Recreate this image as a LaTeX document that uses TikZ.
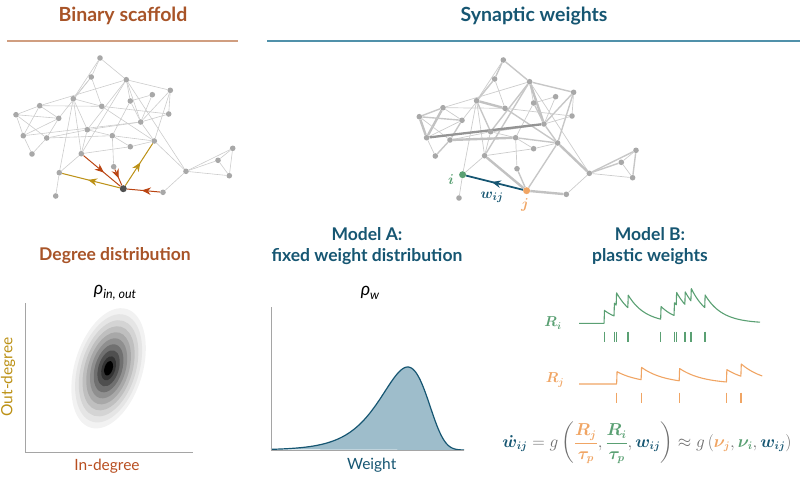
\documentclass[tikz,border=0pt]{standalone}
\usepackage[no-math]{fontspec}
\setmainfont{Lato}
\usepackage{amsmath}
\usepackage{bm}
\usetikzlibrary{arrows.meta,decorations.markings,backgrounds}
\definecolor{brn}{RGB}{168,84,40}
\definecolor{brnline}{RGB}{208,158,128}
\definecolor{tl}{RGB}{22,86,114}
\definecolor{tlline}{RGB}{80,145,170}
\definecolor{redb}{RGB}{186,68,18}
\definecolor{goldc}{RGB}{188,145,22}
\definecolor{indeg}{RGB}{184,78,32}
\definecolor{gn}{RGB}{90,160,115}
\definecolor{orng}{RGB}{240,165,100}
\definecolor{gry}{RGB}{110,110,110}
\definecolor{fillb}{RGB}{158,189,203}
\definecolor{nodeg}{RGB}{168,168,168}
\definecolor{darkn}{RGB}{80,80,80}
\definecolor{axg}{RGB}{165,165,165}
\tikzset{
  h1/.style={font=\fontsize{19.5}{22}\selectfont\bfseries},
  h2/.style={font=\fontsize{17.5}{21}\selectfont\bfseries, align=center, text=tl},
  lab/.style={font=\fontsize{15.5}{17}\selectfont},
  dot/.style={circle, fill=nodeg, inner sep=0pt, minimum size=5.6pt},
  bigdot/.style={circle, inner sep=0pt, minimum size=7pt},
  ethin/.style={line width=0.6pt, black!20},
  e1/.style={line width=0.7pt, black!20},
  e2/.style={line width=1.4pt, black!22},
  e3/.style={line width=2.4pt, black!24},
  e4/.style={line width=2.3pt, black!42},
  midarr/.style={postaction={decorate}, decoration={markings, mark=at position 0.55 with {\arrow{Stealth[length=9pt,width=7.5pt]}}}},
  axisline/.style={axg, line width=0.8pt},
  mlab/.style={font=\fontsize{15}{15}\selectfont},
}
\begin{document}
\begin{tikzpicture}[x=1pt,y=-1pt]
\useasboundingbox (0,0) rectangle (800,477);

% headings
\node[h1, text=brn] (t1) at (123,16) {Binary scaffold};
\node[h1, text=tl] (t2) at (534,16) {Synaptic weights};
\draw[brnline, line width=2pt] (7,41) -- (238,41);
\draw[tlline, line width=2pt] (267,41) -- (800,41);

% networks nodes
\foreach \i/\x/\y in {1/100/58, 2/91.3/77, 3/126.3/79.7, 4/170.3/90.3, 5/152.3/94.7,
  6/73.3/98.7, 7/130.3/101, 8/39.7/105.7, 9/101.7/106.3, 10/16/114.7, 11/168.7/114,
  12/58.7/118.3, 13/140.7/122, 14/87.3/129.7, 15/23.3/135.7, 16/46.7/138, 17/112.3/135.7,
  18/154.3/141, 19/130.3/146.7, 20/32/154, 21/81.3/153.7, 22/232.7/148.3, 23/218/160.3,
  24/113.7/166.7, 25/186/171.3, 26/229.3/175.7, 29/163/192.3, 30/55.7/196}{
  \node[dot] (a\i) at (\x,\y) {};
  \node[dot] (b\i) at (\x+403.3,\y+2) {};
}
\node[dot] (a27) at (59.3,172.7) {};
\node[bigdot, fill=darkn] (a28) at (123.3,188.7) {};
\node[bigdot, fill=gn] (b27) at (462.6,174.7) {};
\node[bigdot, fill=orng] (b28) at (526.6,190.7) {};

\begin{scope}[on background layer]
\foreach \u/\v/\w in {1/2/2, 1/3/2, 1/6/1, 2/6/2, 2/12/1, 2/9/1, 3/4/2, 3/7/1, 3/13/3, 3/14/2,
  3/21/2, 3/25/1, 4/13/2, 4/11/1, 4/18/2, 5/13/1, 5/7/1, 6/9/3, 6/14/2, 6/21/1, 6/27/1,
  7/17/1, 7/13/2, 8/10/2, 8/15/3, 8/12/1, 8/9/1, 8/3/1, 9/11/1, 9/18/2, 10/15/3, 10/16/1,
  10/12/2, 12/16/2, 12/15/1, 13/14/2, 13/15/4, 13/18/2, 14/16/1, 14/21/1, 14/17/1, 16/17/3,
  17/18/2, 17/19/1, 18/19/1, 18/25/3, 19/21/1, 20/15/1, 20/16/2, 21/27/1, 24/17/1, 25/22/2,
  25/23/2, 25/26/1, 22/23/1, 22/26/2, 23/26/1, 25/29/1, 27/30/1, 11/13/1}{
  \draw[ethin] (a\u) -- (a\v);
  \draw[e\w] (b\u) -- (b\v);
}
\foreach \u/\v/\w in {21/28/3, 24/28/2, 28/29/3, 18/28/2}{
  \draw[e\w] (b\u) -- (b\v);
}
\end{scope}

% left arrows
\draw[redb, line width=1pt, midarr] (a21) -- (a28);
\draw[redb, line width=1pt, midarr] (a24) -- (a28);
\draw[redb, line width=1pt, midarr] (a29) -- (a28);
\draw[goldc, line width=1pt, midarr] (a28) -- (a27);
\draw[goldc, line width=1pt, midarr] (a28) -- (a18);

% right arrow and labels
\draw[tl, line width=1.8pt, midarr] (b28) -- (b27);
\node[mlab, text=gn] (li) at (451,180) {$\bm{i}$};
\node[mlab, text=tl] (lw) at (492,197.5) {$\bm{w}_{\bm{ij}}$};
\node[mlab, text=orng] (lj) at (525,205) {$\bm{j}$};

% subheadings
\node[h2, text=brn] (s1) at (115,256) {Degree distribution};
\node[h2] (s2) at (367,246.5) {Model A:\\fixed weight distribution};
\node[h2] (s3) at (650,246.5) {Model B:\\plastic weights};

% degree distribution
\node (rho1) at (115,293) {\fontsize{18}{18}\selectfont\itshape ρ\raisebox{-4pt}{\fontsize{12.5}{12.5}\selectfont in, out}};
\foreach \f/\c in {1/5, 0.9/10, 0.8/17, 0.7/25, 0.6/34, 0.5/44, 0.4/56, 0.3/69, 0.2/80, 0.12/100}{
  \fill[black!\c, rotate around={-17:(108.6,368.3)}] (108.6,368.3) ellipse [x radius={34*\f}, y radius={62*\f}];
}
\draw[axisline] (25.7,303) -- (25.7,452) -- (192.7,452);
\node[lab, text=goldc, rotate=90] (yl) at (8,377) {Out-degree};
\node[lab, text=indeg] (xl) at (107,466) {In-degree};

% model A
\node (rho2) at (370,293) {\fontsize{18}{18}\selectfont\itshape ρ\raisebox{-4pt}{\fontsize{12.5}{12.5}\selectfont w}};
\fill[fillb] plot[domain=271:464, samples=200] (\x, {450 - 83*exp((\x-407.7)/23.5 - exp((\x-407.7)/23.5) + 1)}) -- cycle;
\draw[tl, line width=1.2pt] plot[domain=271:464, samples=200] (\x, {450 - 83*exp((\x-407.7)/23.5 - exp((\x-407.7)/23.5) + 1)});
\draw[axisline] (271,307) -- (271,450) -- (464,450);
\node[lab, text=tl] (wl) at (371.7,465) {Weight};

% model B traces
\node[font=\fontsize{14}{14}\selectfont, text=gn] (ri) at (553,323) {$\bm{R}_{\bm{i}}$};
\node[font=\fontsize{14}{14}\selectfont, text=orng] (rj) at (555,380) {$\bm{R}_{\bm{j}}$};
\draw[gn, line width=1.1pt, line join=round] plot[domain=579:760, samples=420]
  (\x, {323.3 - 13*( (\x>604.3)*exp(-(\x-604.3)/17) + (\x>614.3)*exp(-(\x-614.3)/17)
   + (\x>616.3)*exp(-(\x-616.3)/17) + (\x>628)*exp(-(\x-628)/17)
   + (\x>660.7)*exp(-(\x-660.7)/17) + (\x>674.3)*exp(-(\x-674.3)/17)
   + (\x>676.3)*exp(-(\x-676.3)/17) + (\x>685)*exp(-(\x-685)/17)
   + (\x>691)*exp(-(\x-691)/17) + (\x>705)*exp(-(\x-705)/17) )});
\foreach \t in {604.3, 614.3, 616.3, 628, 660.7, 674.3, 676.3, 685, 691, 705}{
  \draw[gn, line width=1.3pt] (\t,331.7) -- (\t,342.3);
}
\draw[orng, line width=1.1pt, line join=round] plot[domain=579:762.3, samples=420]
  (\x, {384 - 12.5*( (\x>616.7)*exp(-(\x-616.7)/23) + (\x>641.3)*exp(-(\x-641.3)/23)
   + (\x>679.3)*exp(-(\x-679.3)/23) + (\x>726.7)*exp(-(\x-726.7)/23)
   + (\x>741)*exp(-(\x-741)/23) )});
\foreach \t in {616.7, 641.3, 679.3, 726.7, 741}{
  \draw[orng, line width=1.3pt] (\t,392.5) -- (\t,403);
}

% formula
\node[text=gry, font=\fontsize{16}{16}\selectfont, inner sep=1pt] (eq) at (647,443) {$\displaystyle
\textcolor{tl}{\bm{\dot w}_{\bm{ij}}} = g\left(
\textcolor{orng}{\frac{\bm{R}_{\bm{j}}}{\bm{\tau}_{\bm{p}}}},
\textcolor{gn}{\frac{\bm{R}_{\bm{i}}}{\bm{\tau}_{\bm{p}}}},
\textcolor{tl}{\bm{w}_{\bm{ij}}}\right) \approx g\left(\textcolor{orng}{\bm{\nu}_{\bm{j}}},
\textcolor{gn}{\bm{\nu}_{\bm{i}}}, \textcolor{tl}{\bm{w}_{\bm{ij}}}\right)$};
\end{tikzpicture}
\end{document}
